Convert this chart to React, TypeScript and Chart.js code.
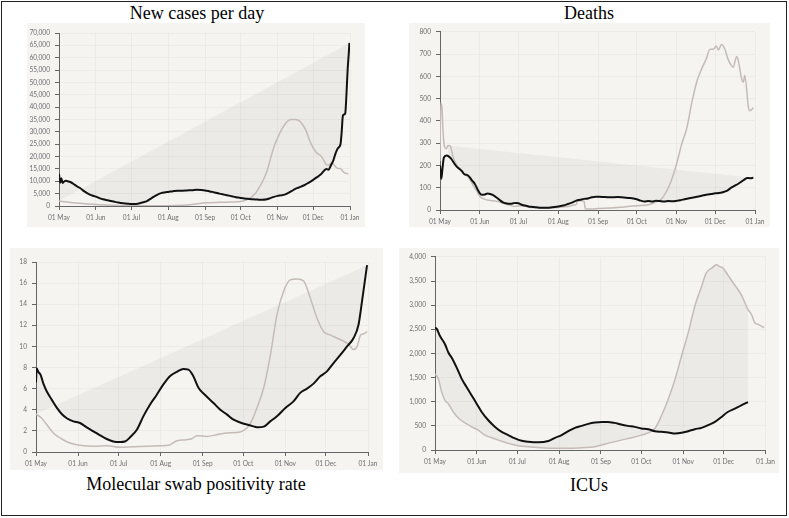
import React, { useEffect, useRef } from "react";
import { Chart, registerables } from "chart.js";
Chart.register(...registerables);

// x axis: days since 01 May
const monthTicks = [0, 31, 61, 92, 123, 153, 184, 214, 245];
const monthLabels = ["01 May", "01 Jun", "01 Jul", "01 Aug", "01 Sep", "01 Oct", "01 Nov", "01 Dec", "01 Jan"];

// New cases per day
const casesBlackDays = [0, 1, 2, 3, 4, 6, 8, 10, 12, 15, 18, 21, 24, 27, 31, 34, 37, 41, 46, 50, 54, 58, 61, 65, 68, 71, 74, 77, 80, 83, 86, 89, 92, 96, 100, 104, 108, 112, 116, 120, 123, 127, 131, 135, 139, 143, 147, 151, 155, 159, 163, 167, 171, 175, 178, 181, 184, 187, 190, 193, 196, 199, 202, 206, 210, 214, 217, 220, 223, 225, 227, 229, 231, 233, 235, 237, 238, 239, 240, 241, 242, 243, 244, 244.5];
const casesBlackValues = [13000, 9400, 11200, 9300, 9800, 10200, 9900, 9600, 9000, 8000, 7200, 6000, 5100, 4400, 3800, 3200, 2700, 2300, 1800, 1400, 1100, 900, 800, 850, 1100, 1500, 2000, 2900, 3800, 4600, 5200, 5500, 5700, 6000, 6200, 6200, 6300, 6400, 6600, 6500, 6300, 5900, 5500, 5000, 4600, 4200, 3800, 3400, 3100, 2900, 2700, 2600, 2500, 2700, 3200, 3700, 4100, 4300, 4600, 5300, 6100, 6900, 7500, 8300, 9400, 10600, 11600, 12600, 14200, 15000, 14700, 16500, 18500, 21500, 23500, 25000, 30000, 36500, 37000, 37500, 45000, 55000, 62000, 66000];
const casesGrayDays = [0, 5, 10, 15, 20, 25, 31, 40, 50, 61, 75, 92, 105, 115, 123, 135, 145, 153, 157, 160, 163, 166, 169, 172, 175, 178, 181, 184, 187, 190, 193, 196, 199, 202, 205, 208, 211, 214, 217, 220, 223, 225, 227, 229, 231, 233, 235, 237, 239, 241, 243.6];
const casesGrayValues = [2000, 1700, 1400, 1200, 1000, 800, 600, 400, 250, 150, 100, 100, 300, 800, 1300, 1500, 1600, 1800, 2300, 3000, 4000, 5500, 7800, 10500, 14000, 19000, 24000, 27500, 30500, 33000, 34500, 35000, 35000, 34500, 33000, 30500, 26500, 23500, 21500, 20500, 18500, 16800, 16500, 17300, 17000, 15800, 15200, 15200, 14000, 13300, 13000];
const casesTrendDays = [0, 244.5];
const casesTrendValues = [2000, 66000];

// Deaths
const deathsBlackDays = [0, 1, 2, 3, 5, 7, 9, 11, 13, 15, 17, 19, 21, 23, 25, 27, 29, 31, 33, 35, 37, 39, 41, 43, 45, 47, 49, 51, 53, 55, 57, 59, 61, 63, 66, 69, 72, 75, 79, 83, 87, 92, 96, 100, 103, 106, 109, 112, 115, 118, 121, 124, 128, 133, 138, 143, 148, 153, 156, 159, 162, 165, 168, 171, 174, 178, 181, 184, 187, 190, 193, 196, 199, 202, 205, 208, 211, 214, 217, 220, 223, 226, 229, 232, 235, 237, 239, 241, 243.7];
const deathsBlackValues = [200, 140, 190, 235, 245, 240, 228, 210, 195, 185, 175, 160, 158, 148, 132, 118, 95, 75, 68, 70, 74, 72, 68, 60, 52, 42, 34, 30, 28, 28, 30, 32, 30, 25, 20, 16, 14, 12, 10, 10, 12, 16, 20, 28, 34, 42, 46, 50, 52, 57, 60, 60, 58, 57, 58, 56, 54, 48, 42, 38, 40, 38, 42, 40, 38, 40, 39, 41, 44, 48, 52, 55, 58, 62, 66, 70, 72, 75, 76, 80, 86, 98, 108, 118, 130, 138, 144, 143, 145];
const deathsGrayDays = [0, 0.6, 1.5, 2.5, 3.5, 5, 6.2, 8, 10, 12.7, 16.6, 20.5, 23, 25.7, 28, 31, 34, 37, 41, 45, 49, 53, 58, 63, 68, 74, 80, 87, 93, 99.6, 104, 106, 107, 110, 112, 113, 118, 123, 133, 140, 146, 153, 162, 167, 172, 176, 180, 184, 188, 192, 196, 200, 203.5, 207, 210, 212.6, 215, 216.5, 219, 221.6, 224, 226, 228, 230.7, 232, 234.6, 236, 237, 240, 241, 243.7];
const deathsGrayValues = [220, 480, 460, 340, 285, 275, 290, 288, 240, 205, 175, 155, 140, 112, 90, 62, 50, 45, 42, 38, 30, 24, 16, 19, 14, 10, 9, 9, 12, 16, 22, 26, 42, 42, 40, 6, 5, 7, 9, 12, 16, 19, 24, 34, 48, 82, 134, 207, 296, 369, 487, 582, 634, 678, 722, 722, 737, 719, 744, 722, 678, 655, 641, 690, 671, 590, 575, 604, 457, 446, 460];
const deathsTrendDays = [6.2, 243.7];
const deathsTrendValues = [290, 145];

// Molecular swab positivity rate
const swabBlackDays = [0, 0.5, 1.7, 3.4, 5.4, 7.9, 11.6, 15.3, 19, 22.7, 27.6, 32.5, 37.4, 42.4, 47.3, 52.2, 57, 62, 65.7, 69.4, 74.4, 79.3, 84.2, 89, 94, 99, 104, 108.8, 112.5, 116, 120, 124.8, 131, 136, 141, 145.8, 150.7, 155.6, 160.5, 164, 168, 172.9, 177.8, 184, 190, 195, 200, 205, 209.8, 214.7, 219.6, 224.6, 229.5, 234.4, 238, 240.6, 243, 244.3];
const swabBlackValues = [6.6, 7.9, 7.6, 7.3, 6.5, 5.75, 4.96, 4.2, 3.6, 3.2, 2.9, 2.75, 2.34, 1.96, 1.58, 1.23, 1.0, 0.95, 1.0, 1.39, 2.1, 3.4, 4.5, 5.4, 6.4, 7.2, 7.6, 7.86, 7.8, 7.2, 6.06, 5.4, 4.64, 4.0, 3.54, 3.06, 2.8, 2.6, 2.43, 2.34, 2.4, 2.9, 3.38, 4.17, 4.8, 5.6, 6.0, 6.5, 7.17, 7.64, 8.43, 9.2, 10.0, 10.8, 12.06, 14.3, 16.5, 17.7];
const swabGrayDays = [0, 4.2, 7.9, 12.8, 19, 25, 32.5, 42.4, 52.2, 62, 72, 81.8, 91.6, 97.8, 104, 111, 115, 118.7, 126, 133.5, 141, 150.7, 155.6, 159, 163, 168, 173, 177.8, 182.7, 187.6, 192.6, 197.5, 202.4, 207.3, 212.3, 217, 222, 227, 230.7, 234.4, 237, 239.6, 242, 244.3];
const swabGrayValues = [3.6, 3.2, 2.6, 1.8, 1.23, 0.85, 0.63, 0.54, 0.6, 0.44, 0.5, 0.54, 0.6, 0.63, 1.07, 1.17, 1.26, 1.55, 1.48, 1.64, 1.8, 1.9, 2.27, 2.9, 4.17, 6.06, 9.2, 13.0, 15.2, 16.3, 16.4, 16.2, 14.6, 12.7, 11.4, 11.1, 10.8, 10.5, 10.2, 9.7, 10.0, 11.1, 11.2, 11.4];
const swabTrendDays = [0, 244.3];
const swabTrendValues = [3.6, 17.7];

// ICUs
const icuBlackDays = [0, 1.2, 3.7, 7.4, 9.9, 12.3, 16, 19.8, 23.5, 27.2, 30.9, 34.6, 39.5, 44.5, 49.4, 54.3, 59.3, 64.2, 69.2, 76.6, 84, 89, 93.9, 98.8, 103.7, 108.7, 113.6, 118.5, 123.5, 128, 133, 138, 143, 148, 153, 158, 163, 168, 173, 178, 182.8, 187.7, 192.6, 197.6, 202.5, 207.5, 212.4, 217, 222.3, 227, 232];
const icuBlackValues = [2534, 2514, 2363, 2192, 2021, 1918, 1712, 1473, 1301, 1130, 959, 788, 616, 479, 377, 308, 240, 192, 171, 158, 185, 253, 308, 390, 459, 500, 541, 568, 582, 582, 562, 527, 500, 479, 445, 431, 390, 377, 363, 342, 356, 390, 431, 459, 514, 582, 685, 788, 856, 925, 993];
const icuGrayDays = [0, 2.5, 5, 7.4, 9.9, 13.6, 17.3, 22.2, 27.2, 32, 37, 42, 47, 54.3, 61.7, 69, 79, 89, 98.8, 108.7, 118.5, 123.5, 131, 138, 145.7, 153, 158, 163, 168, 173, 178, 182.8, 187.7, 192.6, 197.6, 201, 205, 208.7, 211, 213.6, 217, 222, 227, 232, 234.6, 237, 239.6, 242, 244];
const icuGrayValues = [1575, 1473, 1199, 1027, 959, 788, 664, 562, 479, 411, 308, 253, 205, 137, 89, 68, 48, 34, 34, 48, 68, 103, 158, 205, 253, 308, 356, 445, 719, 1062, 1473, 1952, 2432, 2979, 3390, 3664, 3767, 3836, 3801, 3767, 3630, 3425, 3219, 2911, 2808, 2637, 2603, 2568, 2534];

const BLACK = "#111111";
const GRAY = "#c4bbb8";
const FILL = "rgba(0,0,0,0.04)";
const BG = "#f6f4f1";
const TICK_FONT = { family: "Lato, 'Open Sans', sans-serif", size: 6.6 };

type Panel = {
  left: number; top: number; width: number; height: number;
  yWidth: number; xHeight: number; padTop: number; padRight: number;
  yMax: number; yStep: number; comma: boolean;
  blackDays: number[]; blackValues: number[];
  grayDays: number[]; grayValues: number[];
  trendDays?: number[]; trendValues?: number[];
};

const pts = (d: number[], v: number[]) => d.map((x, i) => ({ x, y: v[i] }));

function ChartPanel({ p }: { p: Panel }) {
  const ref = useRef<HTMLCanvasElement | null>(null);
  useEffect(() => {
    if (!ref.current) return;
    const hasTrend = !!p.trendDays;
    const datasets: any[] = [
      {
        data: pts(p.blackDays, p.blackValues),
        borderColor: BLACK, borderWidth: 2, pointRadius: 0,
        cubicInterpolationMode: "monotone",
        backgroundColor: FILL,
        fill: { target: hasTrend ? 2 : 1, above: FILL, below: FILL },
      },
      {
        data: pts(p.grayDays, p.grayValues),
        borderColor: GRAY, borderWidth: 1.5, pointRadius: 0,
        cubicInterpolationMode: "monotone",
        fill: false,
      },
    ];
    if (hasTrend) {
      datasets.push({
        data: pts(p.trendDays!, p.trendValues!),
        borderColor: "rgba(0,0,0,0)", borderWidth: 0, pointRadius: 0, fill: false,
      });
    }
    const chart = new Chart(ref.current, {
      type: "line",
      data: { datasets },
      options: {
        animation: false,
        responsive: false,
        events: [],
        layout: { padding: { top: p.padTop, right: p.padRight, left: 0, bottom: 0 } },
        plugins: {
          legend: { display: false },
          tooltip: { enabled: false },
          filler: { drawTime: "beforeDatasetsDraw" },
        } as any,
        scales: {
          x: {
            type: "linear", min: 0, max: 245,
            afterBuildTicks: (s: any) => { s.ticks = monthTicks.map((v) => ({ value: v })); },
            afterFit: (s: any) => { s.height = p.xHeight; },
            ticks: {
              autoSkip: false, maxRotation: 0, padding: 4, color: "#6e6e6e", font: TICK_FONT,
              callback: (v: any) => { const i = monthTicks.indexOf(Number(v)); return i >= 0 ? monthLabels[i] : ""; },
            },
            grid: { color: "rgba(0,0,0,0.035)", tickColor: "#666", tickLength: 4 },
            border: { color: "#666", width: 1 },
          },
          y: {
            min: 0, max: p.yMax,
            afterFit: (s: any) => { s.width = p.yWidth; },
            ticks: {
              stepSize: p.yStep, padding: 5, color: "#6e6e6e", font: TICK_FONT,
              callback: (v: any) => p.comma ? Number(v).toLocaleString("en-US") : String(v),
            },
            grid: { color: "rgba(0,0,0,0.035)", tickColor: "#666", tickLength: 4 },
            border: { color: "#666", width: 1 },
          },
        } as any,
      },
    });
    return () => chart.destroy();
  }, [p]);
  return (
    <div style={{ position: "absolute", left: p.left, top: p.top, width: p.width, height: p.height, background: BG }}>
      <canvas ref={ref} width={p.width} height={p.height} style={{ display: "block" }} />
    </div>
  );
}

const panels: Panel[] = [
  { left: 27, top: 23, width: 338, height: 204, yWidth: 32, xHeight: 21, padTop: 10, padRight: 15, yMax: 70000, yStep: 5000, comma: true,
    blackDays: casesBlackDays, blackValues: casesBlackValues, grayDays: casesGrayDays, grayValues: casesGrayValues, trendDays: casesTrendDays, trendValues: casesTrendValues },
  { left: 409, top: 23, width: 361, height: 204, yWidth: 31, xHeight: 17, padTop: 6, padRight: 15, yMax: 800, yStep: 100, comma: true,
    blackDays: deathsBlackDays, blackValues: deathsBlackValues, grayDays: deathsGrayDays, grayValues: deathsGrayValues, trendDays: deathsTrendDays, trendValues: deathsTrendValues },
  { left: 10, top: 248, width: 373, height: 222, yWidth: 26, xHeight: 18, padTop: 14, padRight: 15, yMax: 18, yStep: 2, comma: false,
    blackDays: swabBlackDays, blackValues: swabBlackValues, grayDays: swabGrayDays, grayValues: swabGrayValues, trendDays: swabTrendDays, trendValues: swabTrendValues },
  { left: 399, top: 248, width: 380, height: 225, yWidth: 36, xHeight: 23, padTop: 8, padRight: 13, yMax: 4000, yStep: 500, comma: true,
    blackDays: icuBlackDays, blackValues: icuBlackValues, grayDays: icuGrayDays, grayValues: icuGrayValues },
];

const titles = [
  { text: "New cases per day", cx: 197, top: 3 },
  { text: "Deaths", cx: 589, top: 3 },
  { text: "Molecular swab positivity rate", cx: 196, top: 474 },
  { text: "ICUs", cx: 589, top: 475 },
];

export default function App() {
  return (
    <div style={{ position: "absolute", left: 0, top: 0, width: 789, height: 518, background: "#fff", overflow: "hidden" }}>
      <div style={{ position: "absolute", left: 1, top: 1, width: 786, height: 515, boxSizing: "border-box", border: "1px solid #222" }} />
      {panels.map((p, i) => <ChartPanel key={i} p={p} />)}
      {titles.map((t, i) => (
        <div key={i} style={{ position: "absolute", left: t.cx - 200, width: 400, top: t.top, textAlign: "center",
          fontFamily: "'Liberation Serif', 'Times New Roman', serif", fontSize: 18, lineHeight: "20px", color: "#000" }}>
          {t.text}
        </div>
      ))}
    </div>
  );
}
